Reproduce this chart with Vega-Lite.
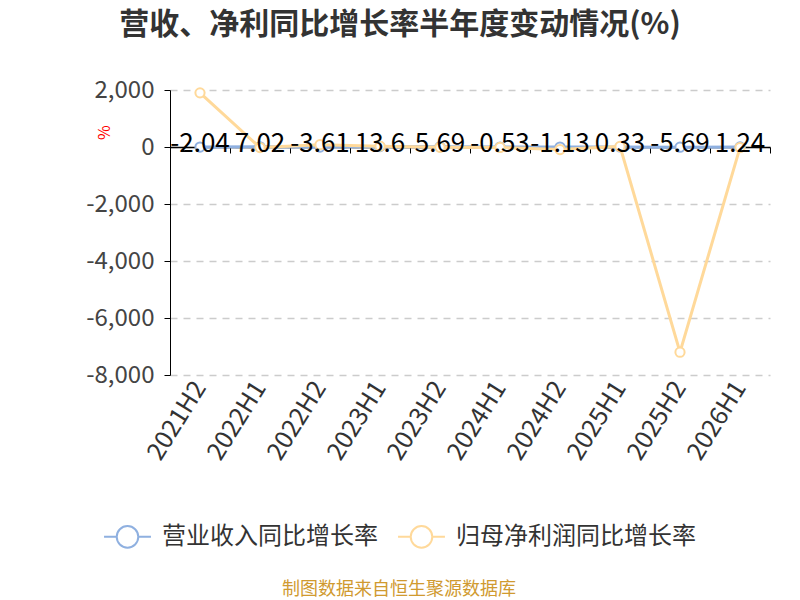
{
  "$schema": "https://vega.github.io/schema/vega-lite/v6.json",
  "width": 600,
  "height": 285,
  "autosize": {"type": "none"},
  "padding": {"left": 170, "top": 90, "right": 30, "bottom": 225},
  "background": "white",
  "config": {
    "font": "Noto Sans CJK SC",
    "view": {"stroke": null}
  },
  "title": {
    "text": "营收、净利同比增长率半年度变动情况(%)",
    "fontSize": 30,
    "fontWeight": "bold",
    "color": "#333333",
    "anchor": "middle",
    "dx": -70,
    "offset": 38
  },
  "data": {
    "values": [
      {"period": "2021H2", "series": "营业收入同比增长率", "value": -2.04},
      {"period": "2022H1", "series": "营业收入同比增长率", "value": 7.02},
      {"period": "2022H2", "series": "营业收入同比增长率", "value": -3.61},
      {"period": "2023H1", "series": "营业收入同比增长率", "value": 13.6},
      {"period": "2023H2", "series": "营业收入同比增长率", "value": 5.69},
      {"period": "2024H1", "series": "营业收入同比增长率", "value": -0.53},
      {"period": "2024H2", "series": "营业收入同比增长率", "value": -1.13},
      {"period": "2025H1", "series": "营业收入同比增长率", "value": 0.33},
      {"period": "2025H2", "series": "营业收入同比增长率", "value": -5.69},
      {"period": "2026H1", "series": "营业收入同比增长率", "value": 1.24},
      {"period": "2021H2", "series": "归母净利润同比增长率", "value": 1900},
      {"period": "2022H1", "series": "归母净利润同比增长率", "value": -20},
      {"period": "2022H2", "series": "归母净利润同比增长率", "value": 80},
      {"period": "2023H1", "series": "归母净利润同比增长率", "value": 30},
      {"period": "2023H2", "series": "归母净利润同比增长率", "value": -10},
      {"period": "2024H1", "series": "归母净利润同比增长率", "value": -15},
      {"period": "2024H2", "series": "归母净利润同比增长率", "value": -90},
      {"period": "2025H1", "series": "归母净利润同比增长率", "value": 20},
      {"period": "2025H2", "series": "归母净利润同比增长率", "value": -7200},
      {"period": "2026H1", "series": "归母净利润同比增长率", "value": -20}
    ]
  },
  "encoding": {
    "x": {
      "field": "period",
      "type": "nominal",
      "sort": null,
      "scale": {"type": "band", "paddingInner": 0, "paddingOuter": 0},
      "axis": null
    },
    "y": {
      "field": "value",
      "type": "quantitative",
      "scale": {"domain": [-8000, 2000], "nice": false, "zero": false},
      "axis": {
        "title": "%",
        "titleColor": "#ff0000",
        "titleFontSize": 16,
        "titleFontWeight": "normal",
        "titleX": -58,
        "titleY": 42,
        "titleAngle": -90,
        "values": [-8000, -6000, -4000, -2000, 0, 2000],
        "labelExpr": "replace(format(datum.value, ','), '−', '-')",
        "labelFontSize": 24,
        "labelColor": "#444444",
        "labelPadding": 10,
        "domainColor": "#000000",
        "tickColor": "#000000",
        "tickSize": 6,
        "gridColor": "#cccccc",
        "gridDash": [7, 6],
        "gridWidth": 1.5
      }
    },
    "color": {
      "field": "series",
      "type": "nominal",
      "scale": {
        "domain": ["营业收入同比增长率", "归母净利润同比增长率"],
        "range": ["#8fb0e0", "#ffd99a"]
      },
      "legend": {
        "orient": "none",
        "direction": "horizontal",
        "legendX": -67,
        "legendY": 422,
        "title": "制图数据来自恒生聚源数据库",
        "titleOrient": "bottom",
        "titleAnchor": "middle",
        "titleFontSize": 18,
        "titleFontWeight": "normal",
        "titleColor": "#d09a30",
        "titlePadding": 29,
        "titleLimit": 500,
        "symbolType": "M-1,0L-0.46,0M0.46,0L1,0M0.46,0A0.46,0.46,0,1,1,-0.46,0A0.46,0.46,0,1,1,0.46,0",
        "symbolSize": 2200,
        "symbolStrokeWidth": 2,
        "symbolFillColor": "transparent",
        "labelFontSize": 24,
        "labelColor": "#333333",
        "labelOffset": 10,
        "labelLimit": 400,
        "columnPadding": 16,
        "symbolLimit": 0
      }
    }
  },
  "layer": [
    {
      "transform": [{"filter": "datum.series === '营业收入同比增长率'"}],
      "mark": {"type": "line", "strokeWidth": 3},
      "encoding": {
        "x": {
          "field": "period",
          "type": "nominal",
          "sort": null,
          "axis": {
            "orient": "bottom",
            "title": null,
            "domain": false,
            "ticks": false,
            "grid": false,
            "labelAngle": -58,
            "labelAlign": "right",
            "labelBaseline": "middle",
            "labelFontSize": 25,
            "labelColor": "#333333",
            "labelPadding": 8
          }
        }
      }
    },
    {
      "transform": [{"filter": "datum.series === '营业收入同比增长率'"}],
      "mark": {"type": "point", "shape": "circle", "filled": false, "fill": "white", "fillOpacity": 1, "size": 85, "strokeWidth": 2, "opacity": 1}
    },
    {
      "transform": [{"filter": "datum.series === '归母净利润同比增长率'"}],
      "mark": {"type": "line", "strokeWidth": 3}
    },
    {
      "transform": [{"filter": "datum.series === '归母净利润同比增长率'"}],
      "mark": {"type": "point", "shape": "circle", "filled": false, "fill": "white", "fillOpacity": 1, "size": 85, "strokeWidth": 2, "opacity": 1}
    },
    {
      "transform": [{"filter": "datum.series === '营业收入同比增长率'"}],
      "mark": {"type": "text", "fontSize": 26, "color": "#000000", "baseline": "middle", "dy": -3},
      "encoding": {
        "x": {
          "field": "period",
          "type": "nominal",
          "sort": null,
          "axis": {
            "orient": "bottom",
            "offset": -228,
            "title": null,
            "labels": false,
            "grid": false,
            "domain": true,
            "domainColor": "#000000",
            "domainWidth": 1.5,
            "ticks": true,
            "tickColor": "#000000",
            "tickSize": 6,
            "tickBand": "extent"
          }
        },
        "text": {"field": "value", "type": "nominal"},
        "color": {"value": "#000000"}
      }
    }
  ],
  "resolve": {"axis": {"x": "independent"}}
}
